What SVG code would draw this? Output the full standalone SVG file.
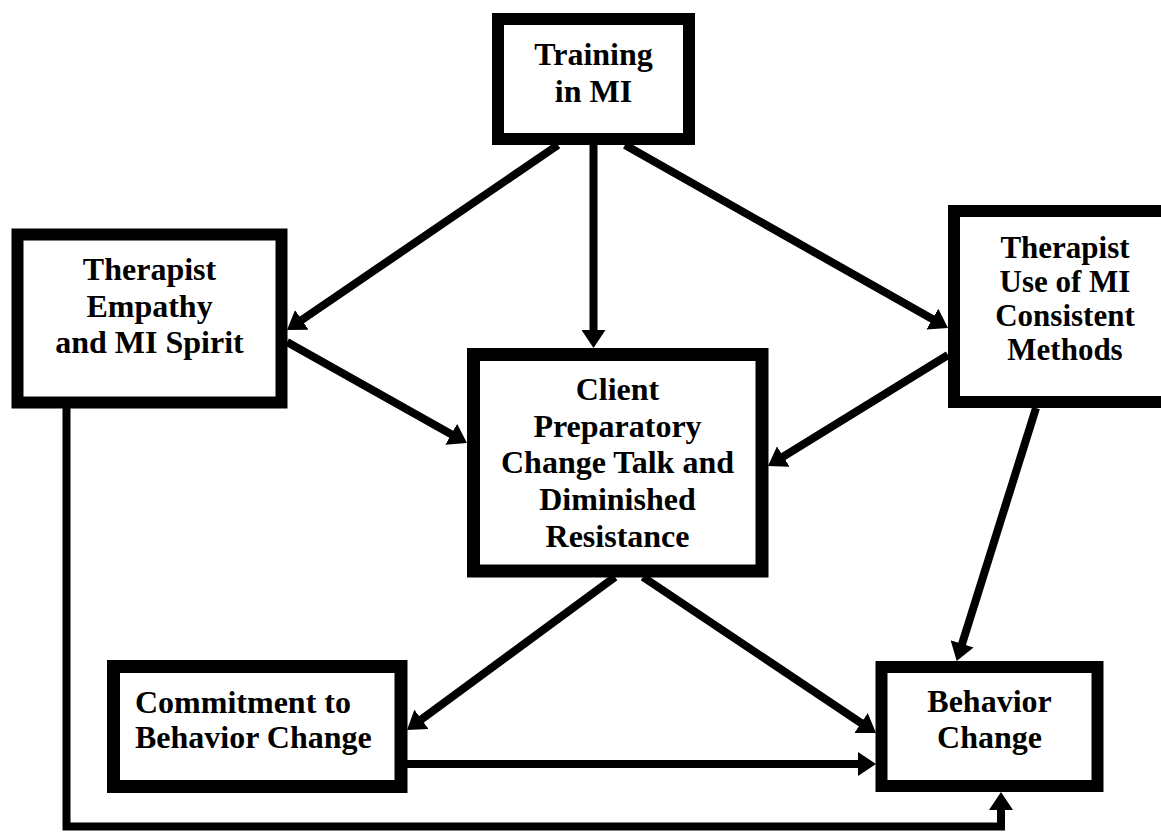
<svg xmlns="http://www.w3.org/2000/svg" width="1161" height="833" viewBox="0 0 1161 833">
<style>
.box{fill:#fff;stroke:#000;stroke-width:12}
.t{font-family:"Liberation Serif","Times New Roman",serif;font-weight:bold;font-size:32px;fill:#000}
.c{text-anchor:middle}
.ln{fill:none;stroke:#000;stroke-width:8;marker-end:url(#ah)}
</style>
<defs>
<marker id="ah" markerUnits="userSpaceOnUse" markerWidth="18" markerHeight="24" refX="2" refY="12" orient="auto" viewBox="0 0 18 24">
<path d="M0,0 L18,12 L0,24 z" fill="#000"/>
</marker>
</defs>
<rect width="1161" height="833" fill="#fff"/>
<g id="connectors">
<line class="ln" x1="558" y1="145" x2="300.2" y2="321"/>
<line class="ln" x1="593.5" y1="145" x2="593.5" y2="332"/>
<line class="ln" x1="625" y1="145" x2="934.1" y2="320.1"/>
<line class="ln" x1="287" y1="342" x2="453" y2="435.2"/>
<line class="ln" x1="948" y1="355" x2="781.6" y2="457.6"/>
<line class="ln" x1="1036" y1="408" x2="961.5" y2="645.7"/>
<line class="ln" x1="615" y1="577" x2="419.9" y2="720.5"/>
<line class="ln" x1="643" y1="577" x2="862.7" y2="724.1"/>
<line class="ln" x1="407" y1="764" x2="860" y2="764"/>
<polyline class="ln" points="66.5,408 66.5,826.5 1001,826.5 1001,808"/>
</g>
<g id="training">
<rect class="box" x="498" y="19" width="191" height="120"/>
<text class="t c" x="593.5" y="65">Training</text>
<text class="t c" x="593.5" y="102">in MI</text>
</g>
<g id="empathy">
<rect class="box" x="17.5" y="234.5" width="264" height="168"/>
<text class="t c" x="149.5" y="280">Therapist</text>
<text class="t c" x="149.5" y="317">Empathy</text>
<text class="t c" x="149.5" y="353">and MI Spirit</text>
</g>
<g id="methods">
<rect class="box" x="954" y="211" width="240" height="191"/>
<text class="t c" x="1065" y="258" style="font-size:31px">Therapist</text>
<text class="t c" x="1065" y="292" style="font-size:31px">Use of MI</text>
<text class="t c" x="1065" y="326" style="font-size:31px">Consistent</text>
<text class="t c" x="1065" y="360" style="font-size:31px">Methods</text>
</g>
<g id="client">
<rect class="box" x="473.5" y="354.5" width="288.5" height="216.5" style="stroke-width:13"/>
<text class="t c" x="617.5" y="400">Client</text>
<text class="t c" x="617.5" y="437">Preparatory</text>
<text class="t c" x="617.5" y="473">Change Talk and</text>
<text class="t c" x="617.5" y="510">Diminished</text>
<text class="t c" x="617.5" y="547">Resistance</text>
</g>
<g id="commitment">
<rect class="box" x="113.5" y="666.5" width="287.5" height="120" style="stroke-width:13"/>
<text class="t" x="135" y="713">Commitment to</text>
<text class="t" x="135" y="748">Behavior Change</text>
</g>
<g id="behavior">
<rect class="box" x="881.5" y="667" width="216" height="119"/>
<text class="t c" x="989.5" y="712">Behavior</text>
<text class="t c" x="989.5" y="748">Change</text>
</g>
</svg>
